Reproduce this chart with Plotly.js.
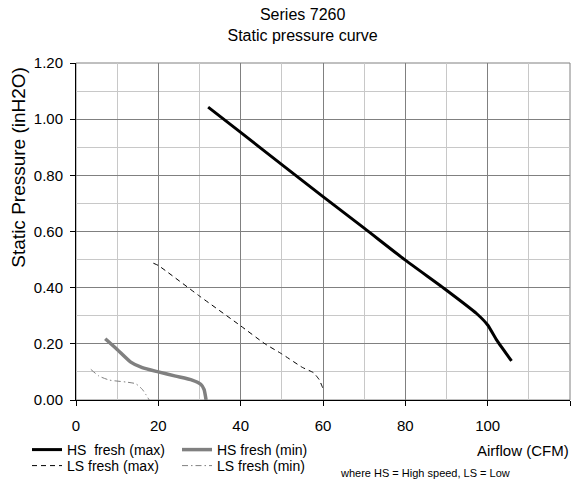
<!DOCTYPE html>
<html>
<head>
<meta charset="utf-8">
<script src="https://cdn.plot.ly/plotly-3.0.1.min.js"></script>
<style>html,body{margin:0;padding:0;background:#fff;}#chart{width:582px;height:484px;}</style>
</head>
<body>
<div id="chart"></div>
<script>
// ---- data ----
const hsMaxX = [32.1, 40, 50, 60, 70, 80, 90, 97.3, 100, 102.2, 105.8];
const hsMaxY = [1.043, 0.953, 0.838, 0.724, 0.612, 0.498, 0.391, 0.308, 0.267, 0.213, 0.139];

const hsMinX = [7.1, 10, 13.3, 16.1, 20, 24.2, 28.2, 30.3, 31.1, 31.6];
const hsMinY = [0.218, 0.18, 0.135, 0.115, 0.1, 0.085, 0.071, 0.056, 0.038, 0.0];

const lsMaxX = [18.8, 20, 30, 40, 45.9, 50, 55, 57.7, 59.1, 59.8, 60.1];
const lsMaxY = [0.487, 0.479, 0.37, 0.264, 0.2, 0.164, 0.116, 0.097, 0.072, 0.048, 0.036];

const lsMinX = [3.6, 5.6, 8.1, 12.1, 14.5, 16.1, 17.8];
const lsMinY = [0.109, 0.085, 0.071, 0.064, 0.058, 0.038, 0.0];

const seriesNames = ["HS\u00a0 fresh (max)", "HS fresh (min)", "LS fresh (max)", "LS fresh (min)"];
const xTickVals = [0, 20, 40, 60, 80, 100, 120];
const yTickVals = [0, 0.2, 0.4, 0.6, 0.8, 1.0, 1.2];

const chartTitle = "Series 7260<br>Static pressure curve";
const xTitle = "Airflow (CFM)";
const yTitle = "Static Pressure (inH2O)";
const noteText = "where HS = High speed, LS = Low";

const FONT = "Liberation Sans, Arial, sans-serif";

const traces = [
  {x: hsMaxX, y: hsMaxY, name: seriesNames[0], mode: "lines", legend: "legend",
   line: {color: "#000000", width: 3, shape: "spline", smoothing: 0.5}},
  {x: hsMinX, y: hsMinY, name: seriesNames[1], mode: "lines", legend: "legend",
   line: {color: "#808080", width: 3.5, shape: "spline", smoothing: 0.5}},
  {x: lsMaxX, y: lsMaxY, name: seriesNames[2], mode: "lines", legend: "legend2",
   line: {color: "#000000", width: 1, dash: "5px,4px", shape: "spline", smoothing: 0.4}},
  {x: lsMinX, y: lsMinY, name: seriesNames[3], mode: "lines", legend: "legend2",
   line: {color: "#808080", width: 1, dash: "6px,3px,1.5px,3px", shape: "spline", smoothing: 0.5}}
];

const axisCommon = {
  showline: true, linecolor: "#000000", linewidth: 1,
  ticks: "outside", ticklen: 5, tickcolor: "#000000", tickwidth: 1,
  showgrid: true, gridcolor: "#808080", gridwidth: 1,
  zeroline: false,
  tickfont: {family: FONT, size: 15, color: "#000000"}
};

const legendCommon = {
  orientation: "h", xref: "container", yref: "container", xanchor: "left", yanchor: "middle",
  entrywidth: 105, entrywidthmode: "pixels",
  font: {family: FONT, size: 14, color: "#000000"}, bgcolor: "rgba(0,0,0,0)", borderwidth: 0,
  itemwidth: 30, traceorder: "normal"
};

const layout = {
  width: 582, height: 484,
  margin: {l: 76, r: 12, t: 63, b: 84, pad: 0},
  paper_bgcolor: "#ffffff", plot_bgcolor: "#ffffff",
  font: {family: FONT, color: "#000000"},
  title: {text: chartTitle, font: {family: FONT, size: 16, color: "#000000"},
          x: 0.52, xref: "container", xanchor: "center", y: 0.958, yref: "container", yanchor: "top"},
  xaxis: Object.assign({}, axisCommon, {
    range: [0, 120], tickvals: xTickVals, ticktext: xTickVals.map(String),
    minor: {dtick: 10, tick0: 0, showgrid: true, gridcolor: "#c8c8c8", gridwidth: 1, ticks: ""},
    ticklabelstandoff: 7
  }),
  yaxis: Object.assign({}, axisCommon, {
    range: [0, 1.2], tickvals: yTickVals, tickformat: ".2f",
    minor: {dtick: 0.1, tick0: 0, showgrid: true, gridcolor: "#c8c8c8", gridwidth: 1, ticks: ""},
    ticklabelstandoff: 4
  }),
  showlegend: true,
  legend: Object.assign({}, legendCommon, {x: 27/582, y: 1 - 450/484}),
  legend2: Object.assign({}, legendCommon, {x: 27/582, y: 1 - 466/484}),
  shapes: [
    {type: "rect", xref: "paper", yref: "paper", x0: 0, x1: 1, y0: 0, y1: 1,
     line: {color: "#808080", width: 1}, layer: "below"}
  ],
  annotations: [
    {text: xTitle, xref: "paper", yref: "paper", x: 1.003, y: -0.151, xanchor: "right", yanchor: "middle",
     showarrow: false, font: {family: FONT, size: 15, color: "#000000"}},
    {text: noteText, xref: "paper", yref: "paper", x: 0.530, y: -0.2175, xanchor: "left", yanchor: "middle",
     showarrow: false, font: {family: FONT, size: 11, color: "#000000"}},
    {text: yTitle, xref: "paper", yref: "paper", x: -0.117, y: 0.690, xanchor: "center", yanchor: "middle",
     textangle: -90, showarrow: false, font: {family: FONT, size: 19, color: "#000000"}}
  ]
};

Plotly.newPlot("chart", traces, layout, {staticPlot: true, displayModeBar: false});
</script>
</body>
</html>
